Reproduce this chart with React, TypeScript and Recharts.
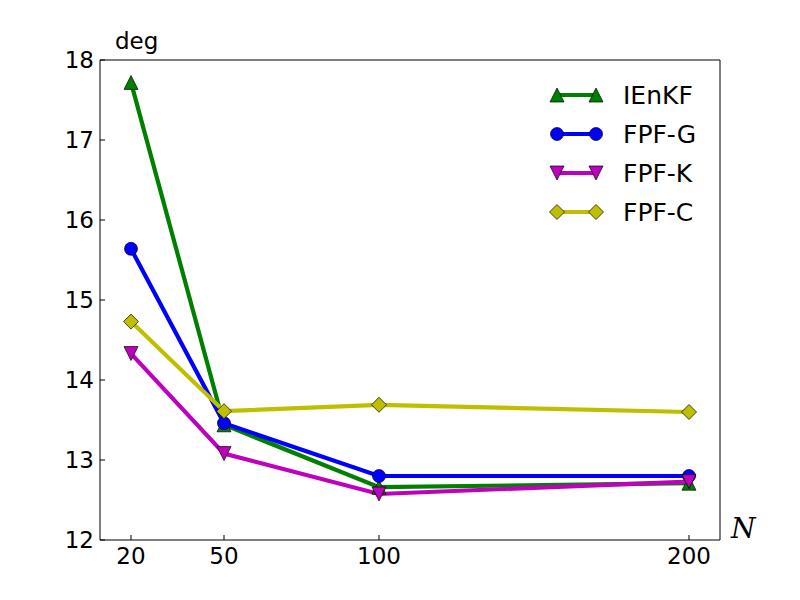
import React from "react";
import { LineChart, Line, XAxis, YAxis } from "recharts";

const N_VALUES = [20, 50, 100, 200];
const IENKF = [17.72, 13.44, 12.66, 12.71];
const FPF_G = [15.64, 13.46, 12.8, 12.8];
const FPF_K = [14.33, 13.08, 12.575, 12.73];
const FPF_C = [14.73, 13.61, 13.69, 13.6];
const X_TICKS = [20, 50, 100, 200];
const Y_TICKS = [12, 13, 14, 15, 16, 17, 18];

type Shape = "up" | "circle" | "down" | "diamond";

const SERIES: { key: string; name: string; color: string; shape: Shape; values: number[] }[] = [
  { key: "ienkf", name: "IEnKF", color: "#008000", shape: "up", values: IENKF },
  { key: "fpfg", name: "FPF-G", color: "#0000ff", shape: "circle", values: FPF_G },
  { key: "fpfk", name: "FPF-K", color: "#bf00bf", shape: "down", values: FPF_K },
  { key: "fpfc", name: "FPF-C", color: "#bfbf00", shape: "diamond", values: FPF_C },
];

const data = N_VALUES.map((n, i) => {
  const row: Record<string, number> = { n };
  SERIES.forEach((s) => {
    row[s.key] = s.values[i];
  });
  return row;
});

const FONT = "'DejaVu Sans', sans-serif";

function Marker({ cx, cy, shape, color }: { cx: number; cy: number; shape: Shape; color: string }) {
  const common = { fill: color, stroke: "#000", strokeWidth: 0.7 };
  if (shape === "circle") return <circle cx={cx} cy={cy} r={6.5} {...common} />;
  if (shape === "up")
    return <polygon points={`${cx},${cy - 7} ${cx - 7},${cy + 7} ${cx + 7},${cy + 7}`} {...common} />;
  if (shape === "down")
    return <polygon points={`${cx},${cy + 7} ${cx - 7},${cy - 7} ${cx + 7},${cy - 7}`} {...common} />;
  return <polygon points={`${cx},${cy - 7.5} ${cx + 7.5},${cy} ${cx},${cy + 7.5} ${cx - 7.5},${cy}`} {...common} />;
}

const makeDot = (shape: Shape, color: string) => (props: any) => {
  const { cx, cy, index } = props;
  return <Marker key={`${shape}-${index}`} cx={cx} cy={cy} shape={shape} color={color} />;
};

export default function App() {
  const legendTop = 95;
  const legendStep = 39;
  return (
    <div style={{ position: "absolute", left: 0, top: 0, width: 800, height: 600, background: "#fff" }}>
      <LineChart
        width={800}
        height={600}
        data={data}
        margin={{ top: 59, right: 79, bottom: 59, left: 99 }}
      >
        <XAxis
          xAxisId="bottom"
          dataKey="n"
          type="number"
          domain={[10, 210]}
          ticks={X_TICKS}
          height={1}
          axisLine={{ stroke: "#000", strokeWidth: 1 }}
          tickLine={{ stroke: "#000" }}
          tickSize={-5}
          tickMargin={13}
          tick={{ fill: "#000", fontSize: 23, fontFamily: FONT }}
          allowDataOverflow
        />
        <XAxis
          xAxisId="top"
          orientation="top"
          dataKey="n"
          type="number"
          domain={[10, 210]}
          ticks={X_TICKS}
          height={1}
          axisLine={{ stroke: "#000", strokeWidth: 1 }}
          tickLine={{ stroke: "#000" }}
          tickSize={-5}
          tick={false}
          allowDataOverflow
        />
        <YAxis
          yAxisId="left"
          type="number"
          domain={[12, 18]}
          ticks={Y_TICKS}
          width={1}
          axisLine={{ stroke: "#000", strokeWidth: 1 }}
          tickLine={{ stroke: "#000" }}
          tickSize={-5}
          tickMargin={11}
          tick={{ fill: "#000", fontSize: 23, fontFamily: FONT }}
          allowDataOverflow
        />
        <YAxis
          yAxisId="right"
          orientation="right"
          type="number"
          domain={[12, 18]}
          ticks={Y_TICKS}
          width={1}
          axisLine={{ stroke: "#000", strokeWidth: 1 }}
          tickLine={{ stroke: "#000" }}
          tickSize={-5}
          tick={false}
          allowDataOverflow
        />
        {SERIES.map((s) => (
          <Line
            key={s.key}
            xAxisId="bottom"
            yAxisId="left"
            dataKey={s.key}
            name={s.name}
            type="linear"
            stroke={s.color}
            strokeWidth={4.2}
            dot={makeDot(s.shape, s.color)}
            activeDot={false}
            isAnimationActive={false}
          />
        ))}
      </LineChart>
      <svg
        width={800}
        height={600}
        style={{ position: "absolute", left: 0, top: 0, pointerEvents: "none" }}
      >
        <text x={115} y={49} fontSize={23} fontFamily={FONT} fill="#000">
          deg
        </text>
        <text
          x={731}
          y={538}
          fontSize={28}
          fontStyle="italic"
          fontFamily="'DejaVu Serif', 'Liberation Serif', serif"
          fill="#000"
        >
          N
        </text>
        {SERIES.map((s, i) => {
          const y = legendTop + i * legendStep;
          return (
            <g key={s.key}>
              <line x1={557} y1={y} x2={596} y2={y} stroke={s.color} strokeWidth={4.2} />
              <Marker cx={557} cy={y} shape={s.shape} color={s.color} />
              <Marker cx={596} cy={y} shape={s.shape} color={s.color} />
              <text x={623} y={y} dy="0.36em" fontSize={25} fontFamily={FONT} fill="#000">
                {s.name}
              </text>
            </g>
          );
        })}
      </svg>
    </div>
  );
}
